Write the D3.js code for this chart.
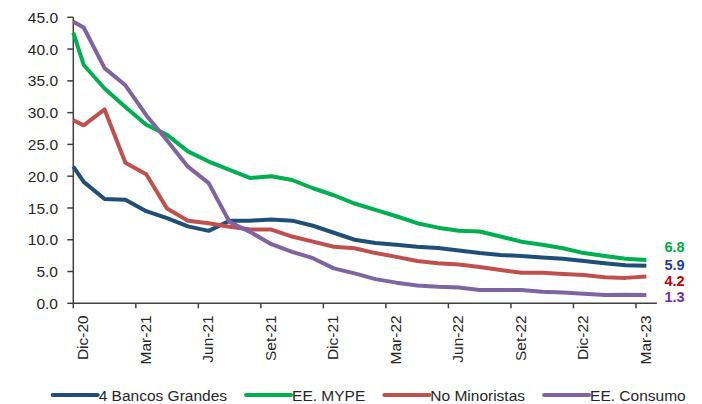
<!DOCTYPE html>
<html>
<head>
<meta charset="utf-8">
<script src="https://cdn.jsdelivr.net/npm/d3@7"></script>
<style>
  body { margin: 0; background: #fff; }
  .lbl { font-family: "Liberation Sans", Arial, sans-serif; font-size: 15.5px; fill: #262626; }
</style>
</head>
<body>
<div id="chart"></div>
<script>
// categories (monthly), first value of each series is the opening point at the axis
const meses = ["Dic-20","Ene-21","Feb-21","Mar-21","Abr-21","May-21","Jun-21","Jul-21","Ago-21","Set-21","Oct-21","Nov-21",
  "Dic-21","Ene-22","Feb-22","Mar-22","Abr-22","May-22","Jun-22","Jul-22","Ago-22","Set-22","Oct-22","Nov-22",
  "Dic-22","Ene-23","Feb-23","Mar-23"];
const yTicks = [0, 5, 10, 15, 20, 25, 30, 35, 40, 45];

const bancosGrandes = [21.5, 19.1, 16.4, 16.3, 14.5, 13.4, 12.1, 11.4, 13.0, 13.0, 13.2, 13.0, 12.2, 11.1, 10.0,
  9.5, 9.2, 8.9, 8.7, 8.3, 7.9, 7.6, 7.45, 7.2, 7.0, 6.65, 6.3, 6.0, 5.9];
const mype = [42.6, 37.5, 33.8, 30.9, 28.1, 26.5, 23.9, 22.3, 21.0, 19.7, 20.0, 19.4, 18.1, 17.0, 15.7,
  14.7, 13.7, 12.6, 11.9, 11.4, 11.3, 10.5, 9.7, 9.2, 8.65, 7.9, 7.45, 7.0, 6.8];
const noMinoristas = [28.8, 28.0, 30.5, 22.1, 20.3, 14.9, 13.0, 12.6, 12.05, 11.6, 11.6, 10.5, 9.7, 8.9, 8.65,
  7.9, 7.3, 6.65, 6.3, 6.1, 5.7, 5.25, 4.8, 4.8, 4.6, 4.45, 4.1, 4.0, 4.2];
const consumo = [44.3, 43.4, 37.0, 34.3, 29.6, 25.6, 21.5, 18.9, 12.8, 11.2, 9.3, 8.1, 7.1, 5.5, 4.7,
  3.8, 3.25, 2.8, 2.6, 2.5, 2.1, 2.1, 2.1, 1.8, 1.7, 1.5, 1.3, 1.35, 1.3];

const series = [
  {name: "4 Bancos Grandes", values: bancosGrandes, color: "#1F4E79", labelColor: "#1F3FA0", dy: -1},
  {name: "EE. MYPE", values: mype, color: "#00B050", labelColor: "#00A84A", dy: -13},
  {name: "No Minoristas", values: noMinoristas, color: "#C0504D", labelColor: "#C00000", dy: 4},
  {name: "EE. Consumo", values: consumo, color: "#8064A2", labelColor: "#7030A0", dy: 1.5}
];

const width = 702, height = 404;

const svg = d3.select("#chart")
  .append("svg")
  .attr("width", width)
  .attr("height", height);

// x: category index, categories sit between tick marks; index -0.5 is the axis start
const x = d3.scaleLinear()
  .domain([-0.5, meses.length - 0.5])
  .range([73.3, 656.8]);

const y = d3.scaleLinear()
  .domain([0, 45])
  .range([303.3, 17.3]);

const axisColor = "#404040";

// y axis
svg.append("line")
  .attr("x1", x(-0.5)).attr("x2", x(-0.5))
  .attr("y1", y(0)).attr("y2", y(45))
  .attr("stroke", axisColor).attr("stroke-width", 1.5);

svg.append("g").selectAll("line")
  .data(yTicks)
  .join("line")
  .attr("x1", x(-0.5) - 6).attr("x2", x(-0.5))
  .attr("y1", d => y(d)).attr("y2", d => y(d))
  .attr("stroke", axisColor).attr("stroke-width", 1.5);

svg.append("g").selectAll("text")
  .data(yTicks)
  .join("text")
  .attr("class", "lbl")
  .attr("x", 58)
  .attr("y", d => y(d))
  .attr("dy", "0.36em")
  .attr("text-anchor", "end")
  .text(d => d.toFixed(1));

// x axis
svg.append("line")
  .attr("x1", x(-0.5)).attr("x2", x(meses.length - 0.5))
  .attr("y1", y(0)).attr("y2", y(0))
  .attr("stroke", axisColor).attr("stroke-width", 1.5);

const labelIdx = d3.range(0, meses.length, 3);

svg.append("g").selectAll("line")
  .data(labelIdx)
  .join("line")
  .attr("x1", d => x(d - 0.5)).attr("x2", d => x(d - 0.5))
  .attr("y1", y(0)).attr("y2", y(0) + 5)
  .attr("stroke", axisColor).attr("stroke-width", 1.5);

svg.append("g").selectAll("text")
  .data(labelIdx)
  .join("text")
  .attr("class", "lbl")
  .attr("transform", d => `translate(${x(d) - 1},${y(0) + 12}) rotate(-90)`)
  .attr("dy", "0.36em")
  .attr("text-anchor", "end")
  .text(d => meses[d]);

// lines
const line = d3.line()
  .x((d, i) => x(i - 1 < 0 ? -0.5 : i - 1))
  .y(d => y(d));

svg.append("g").selectAll("path")
  .data(series)
  .join("path")
  .attr("d", d => line(d.values))
  .attr("fill", "none")
  .attr("stroke", d => d.color)
  .attr("stroke-width", 4)
  .attr("stroke-linejoin", "round");

// end labels
svg.append("g").selectAll("text")
  .data(series)
  .join("text")
  .attr("x", x(meses.length - 1) + 18)
  .attr("y", d => y(d.values[d.values.length - 1]) + d.dy)
  .attr("dy", "0.36em")
  .style("font-family", "'Liberation Sans', Arial, sans-serif")
  .style("font-size", "14.5px")
  .style("font-weight", "bold")
  .style("fill", d => d.labelColor)
  .text(d => d.values[d.values.length - 1].toFixed(1));

// legend
const legend = svg.append("g").attr("transform", "translate(0,395)");
let lx = 52.7;
series.forEach(s => {
  legend.append("line")
    .attr("x1", lx).attr("x2", lx + 45)
    .attr("y1", 0).attr("y2", 0)
    .attr("stroke", s.color).attr("stroke-width", 4)
    .attr("stroke-linecap", "round");
  const t = legend.append("text")
    .attr("class", "lbl")
    .attr("x", lx + 46)
    .attr("dy", "0.36em")
    .text(s.name);
  lx += 46 + t.node().getComputedTextLength() + 19;
});
</script>
</body>
</html>
